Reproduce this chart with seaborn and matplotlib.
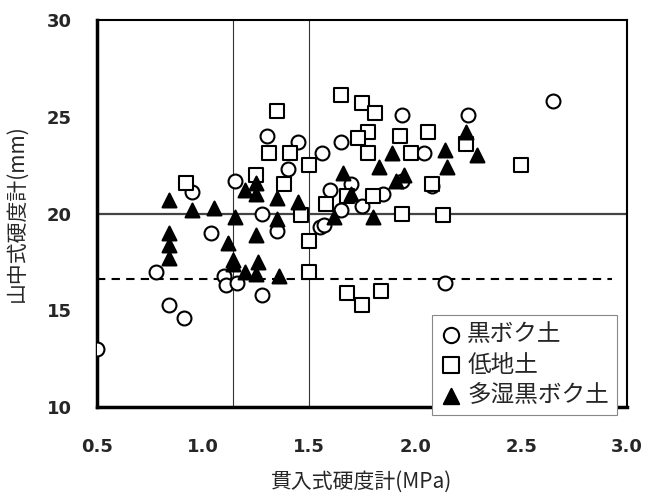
import pandas as pd
import matplotlib.pyplot as plt
import seaborn as sns

# 黒ボク土 (open circles)
kuroboku_x = [0.50, 0.78, 0.84, 0.91, 0.95, 1.04, 1.10, 1.11, 1.16, 1.28, 1.15, 1.30, 1.45,
              1.56, 1.28, 1.35, 1.55, 1.94, 2.25, 2.65, 1.65, 2.04, 2.08, 1.57, 1.94, 1.65,
              2.14, 1.70, 1.85, 1.40, 1.60, 1.75]
kuroboku_y = [13.0, 17.0, 15.3, 14.6, 21.1, 19.0, 16.8, 16.3, 16.4, 15.8, 21.7, 24.0, 23.7,
              23.1, 20.0, 19.1, 19.3, 25.1, 25.1, 25.8, 23.7, 23.1, 21.4, 19.4, 21.7, 20.2,
              16.4, 21.5, 21.0, 22.3, 21.2, 20.4]

# 低地土 (open squares)
teichi_x = [0.92, 1.35, 1.31, 1.41, 1.50, 1.65, 1.75, 1.81, 1.78, 1.73, 1.93, 2.06, 2.24,
            1.78, 1.98, 2.50, 2.08, 1.68, 1.80, 1.58, 1.94, 2.13, 1.46, 1.50, 1.50, 1.68,
            1.75, 1.84, 1.25, 1.38]
teichi_y = [21.6, 25.3, 23.1, 23.1, 22.5, 26.1, 25.7, 25.2, 24.2, 23.9, 24.0, 24.2, 23.6,
            23.1, 23.1, 22.5, 21.5, 20.9, 20.9, 20.5, 20.0, 19.9, 19.9, 18.6, 17.0, 15.9,
            15.3, 16.0, 22.0, 21.5]

# 多湿黒ボク土 (filled triangles)
tashitsu_x = [0.84, 0.95, 1.05, 0.84, 0.84, 0.84, 1.15, 1.12, 1.14, 1.25, 1.25, 1.35,
              1.35, 1.25, 1.45, 1.14, 1.20, 1.26, 1.25, 1.36, 1.66, 1.83, 1.91, 1.89,
              2.14, 2.15, 2.24, 2.29, 1.62, 1.80, 1.20, 1.70, 1.95]
tashitsu_y = [20.7, 20.2, 20.3, 19.0, 18.4, 17.7, 19.8, 18.5, 17.6, 21.6, 21.0, 20.8,
              19.7, 18.9, 20.6, 17.4, 17.0, 17.5, 16.9, 16.8, 22.1, 22.4, 21.7, 23.1,
              23.3, 22.4, 24.2, 23.0, 19.8, 19.8, 21.2, 21.0, 22.0]

xticks = [0.5, 1.0, 1.5, 2.0, 2.5, 3.0]
xtick_labels = ["0.5", "1.0", "1.5", "2.0", "2.5", "3.0"]
yticks = [10, 15, 20, 25, 30]
ytick_labels = ["10", "15", "20", "25", "30"]

df = pd.concat([
    pd.DataFrame({"x": kuroboku_x, "y": kuroboku_y, "soil": "黒ボク土"}),
    pd.DataFrame({"x": teichi_x, "y": teichi_y, "soil": "低地土"}),
    pd.DataFrame({"x": tashitsu_x, "y": tashitsu_y, "soil": "多湿黒ボク土"}),
])

sns.set_style("white")
plt.rcParams["font.family"] = ["Noto Sans CJK JP", "DejaVu Sans"]

fig = plt.figure(figsize=(6.5, 4.96), dpi=100)
ax = fig.add_axes([0.149, 0.179, 0.816, 0.781])

# reference lines
ax.axhline(20, color="#444444", lw=1.6, zorder=1)
ax.plot([0.5, 2.93], [16.6, 16.6], color="black", lw=1.5, ls=(0, (4, 3)), zorder=1)
ax.axvline(1.14, color="#333333", lw=0.8, zorder=1)
ax.axvline(1.5, color="#333333", lw=0.8, zorder=1)

styles = {
    "黒ボク土": dict(marker="o", facecolor="white"),
    "低地土": dict(marker="s", facecolor="white"),
    "多湿黒ボク土": dict(marker="^", facecolor="black"),
}
for soil, st in styles.items():
    sub = df[df["soil"] == soil]
    sns.scatterplot(data=sub, x="x", y="y", ax=ax, marker=st["marker"], s=100,
                    facecolor=st["facecolor"], edgecolor="black", linewidth=1.5,
                    label=soil, zorder=3)

ax.set_xlim(0.5, 3.0)
ax.set_ylim(10, 30)
ax.set_xticks(xticks)
ax.set_xticklabels(xtick_labels, fontsize=13, fontweight="bold", family="DejaVu Sans")
ax.set_yticks(yticks)
ax.set_yticklabels(ytick_labels, fontsize=13, fontweight="bold", family="DejaVu Sans")
ax.tick_params(direction="in", length=5, width=2, color="black")
ax.tick_params(axis="x", pad=22)
ax.tick_params(axis="y", pad=18)

for side in ["left", "bottom"]:
    ax.spines[side].set_linewidth(2.5)
for side in ["top", "right"]:
    ax.spines[side].set_linewidth(1.5)
for sp in ax.spines.values():
    sp.set_color("black")

ax.set_xlabel("貫入式硬度計(MPa)", fontsize=15, labelpad=11)
ax.set_ylabel("山中式硬度計(mm)", fontsize=15, labelpad=14)

leg = ax.legend(loc="lower right", bbox_to_anchor=(0.981, -0.021), borderaxespad=0,
                fontsize=17, frameon=True, fancybox=False, framealpha=1,
                handletextpad=0.25, borderpad=0.35, labelspacing=0.32,
                handlelength=0.9, markerscale=1.1)
leg.get_frame().set_edgecolor("#888888")
leg.get_frame().set_linewidth(0.8)
leg.set_zorder(5)

fig.savefig("out.png", dpi=100)
